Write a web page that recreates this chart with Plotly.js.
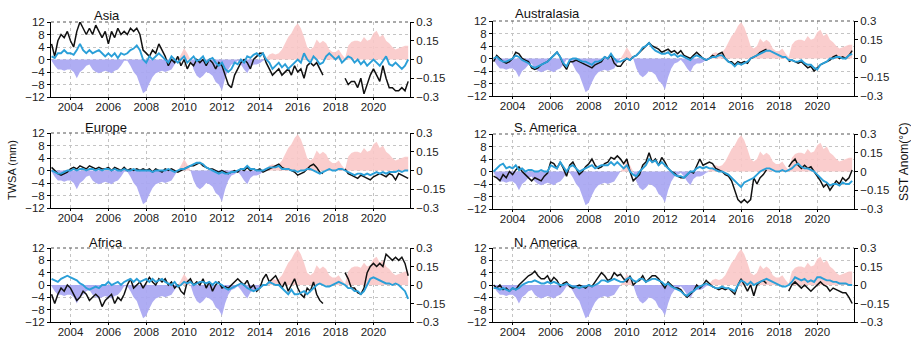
<!DOCTYPE html>
<html><head><meta charset="utf-8">
<script src="https://cdn.plot.ly/plotly-3.0.1.min.js"></script>
<style>html,body{margin:0;padding:0;background:#fff}#chart{width:911px;height:338px}</style>
</head><body><div id="chart"></div>
<script>
// time axis: bimonthly samples starting Jan 2003
const startYear = 2003;
const stepYears = 1 / 6;

const regionNames = ["Asia", "Australasia", "Europe", "S. America", "Africa", "N. America"];

// SST anomaly (°C), shared by all panels
const sstAnom = [
 -0.01,-0.05,-0.08,-0.08,-0.09,-0.08,
 -0.08,-0.10,-0.15,-0.10,-0.08,-0.05,
 -0.04,-0.08,-0.10,-0.11,-0.10,-0.09,
 -0.10,-0.11,-0.09,-0.08,-0.05,-0.01,
 -0.01,-0.05,-0.10,-0.13,-0.20,-0.27,
 -0.25,-0.19,-0.14,-0.11,-0.10,-0.09,
 -0.10,-0.09,-0.08,-0.04,0.00,0.04,
 0.09,0.05,0.00,-0.08,-0.13,-0.15,
 -0.13,-0.10,-0.11,-0.13,-0.18,-0.20,
 -0.25,-0.15,-0.08,-0.04,-0.03,-0.01,
 -0.04,-0.08,-0.11,-0.06,-0.04,-0.04,
 -0.03,-0.01,0.01,0.04,0.05,0.04,
 0.05,0.08,0.13,0.18,0.21,0.26,
 0.29,0.25,0.18,0.10,0.08,0.10,
 0.16,0.13,0.15,0.13,0.08,0.06,
 0.06,0.08,0.04,0.01,0.11,0.14,
 0.15,0.15,0.14,0.18,0.15,0.16,
 0.21,0.23,0.18,0.20,0.15,0.13,
 0.10,0.08,0.09,0.10,0.11,0.11
];

// TWSA (mm): black = observed, cyan = model
const asiaObs = [
 5,1,6,8,7,9,
 6,4,9,12,10,8,
 10,8,11,9,7,9,
 5,9,7,10,8,9,
 8,10,9,10,8,3,
 2,1,3,2,5,3,
 1,-2,0,-1,1,-2,
 0,-3,-1,-2,0,-1,
 0,-2,0,-1,-3,-1,
 -2,-5,-8,-9,-5,-3,
 -1,0,-1,-3,0,1,
 2,2,-1,-3,-5,-4,
 -3,-5,-4,-3,-5,-2,
 -4,-3,-6,-2,-1,-2,
 -1,-3,-5,null,null,null,
 null,null,null,-6,-8,-7,
 -7,-9,-6,-11,-8,-5,
 -3,-5,-7,-2,-6,-9,
 -9,-10,-10,-9,-10,-7
];
const asiaModel = [
 1,0.5,2,2,3,2,
 2,1.5,3,5,3,2,
 3,2,2.5,3,2,1,
 2,1,2,0.5,2,1.5,
 2,3,3.5,4.5,3,0,
 -1,1,0,1,2,1,
 0,-1,1,0,-1,0,
 1,-1,0,1,-0.5,0,
 1,-1,0,0.5,-1,-2,
 -1,-3,-4,-3,-1,-1.5,
 0,-1,1,0.5,1.5,2,
 1,2,0,-1,-3,-2,
 -1,-2.5,-1.5,-3,-2,-1,
 0,-1,2,0,-1,1,
 0,-1.5,-1,1,2,1,
 0,1,-1,0,1,0.5,
 -1,0,-1.5,-0.5,-2,-1,
 0,-1,-2,-0.5,1,-1.5,
 -2,-1,-2,-3,-2,0
];
const australasiaObs = [
 -1,1,0,-1,-1.5,-1,
 0,2,1.5,0,-0.5,-1,
 -3,-3.5,-3,-2,-1.5,-1,
 0,1,2,0.5,-2,-3.5,
 -1,-1,-0.5,-1,-1.5,-2,
 -2.5,-3,-2,-1.5,-1,0.5,
 0,1,-1.5,-2.5,-2.5,-1,
 0,-0.5,0.5,1,2,3,
 4,5,4,3.5,3,2,
 2.5,3,2,2.5,1.5,2.5,
 1,0.5,0,1,2,1,
 0,-0.5,0,1,0.5,1.5,
 2,0,-1,-1,-2,-1,
 -1.5,-1,-1.5,0,0.5,1,
 2,2.5,3,null,null,null,
 null,null,null,-1,-0.5,-1,
 -1.5,-1,-2,-3,-2.5,-4,
 -3,-2,-1.5,-1,-0.5,0.5,
 1,0,0.5,0,1,2.5
];
const australasiaModel = [
 0,0.5,-0.5,-1,-1,-0.5,
 0,1,0.5,-0.5,-1,-1.5,
 -2.5,-3,-2.5,-2,-1.5,-1,
 0,1,2,0.5,-1.5,-2.5,
 -0.5,0,0,-0.5,-1,-1,
 -1.5,-2,-1,-1,-0.5,0.5,
 0,1.5,0,-1,-1,-0.5,
 0,-0.5,0.5,1,2,3.5,
 4,5,3.5,2.5,2,1.5,
 1.5,2,1,1.5,0.5,1,
 0.5,0,-0.5,0.5,1,0.5,
 0,-0.5,0,0.5,0.5,1,
 1,0,-1,-1.5,-2.5,-1.5,
 -2,-1.5,-1,0,0.5,1,
 1.5,2,2.5,2.5,2,1.5,
 1,0.5,0.5,-0.5,-0.5,-1,
 -1,-0.5,-1.5,-2,-2,-3,
 -3.5,-2,-1.5,-1,0,0,
 0.5,0.5,0,0,1,1.5
];
const europeObs = [
 1,0,-1,-1.5,-1,-0.5,
 0.5,1,0.5,1.5,1,0.5,
 1.5,1,0.5,1,0.5,0.5,
 1,0,1,0.5,0,1,
 0,0.5,0,0.5,0,0.5,
 0,0.5,-0.5,0.5,0,-0.5,
 0.5,0,0.5,0,-0.5,0,
 0.5,1,1.5,1.5,2,2.5,
 1.5,1,0.5,0.5,0,-0.5,
 0,-0.5,-1,-0.5,0,-0.5,
 0.5,0,1,0,0.5,0,
 0.5,-0.5,0,0.5,1,1.5,
 2,1,0.5,0.5,0,-0.5,
 -1.5,-1,-0.5,0.5,1.5,2,
 1,-0.5,-1,null,null,null,
 null,null,null,0.5,-1,-1.5,
 -2,-2.5,-1.5,-2,-2.5,-3,
 -2,-1.5,-1,-1.5,-2,-1,
 -1.5,-3,-1,-1.5,-2,-2.5
];
const europeModel = [
 0,-0.5,-1,-1,-0.5,0,
 0,0.5,0,0.5,0.5,0,
 0.5,0.5,0,0.5,0,0.5,
 0.5,0,0.5,0,0,0.5,
 0,0,0.5,0,0,0,
 0,0,-0.5,0,0,0,
 0,0.5,0,-0.5,0,0.5,
 0.5,1,1.5,2,2.5,2.5,
 2,1,0.5,0,-0.5,-1,
 -0.5,-1,-1,-0.5,-0.5,0,
 0.5,0.5,1.5,0.5,0.5,0,
 0,0,0.5,1,1,1,
 1.5,0.5,0.5,0.5,0,0,
 -0.5,0,0,0.5,0.5,0,
 -0.5,-1,-0.5,0,0.5,0,
 0,0.5,0.5,0,-0.5,-1,
 -1.5,-1,-1,-1.5,-1,-1.5,
 -1,-0.5,-1,-0.5,-1,-0.5,
 -0.5,-0.5,0,-0.5,0,0
];
const sAmericaObs = [
 -1.5,-2,-3,-1,-2,0,
 -1,0.5,1.5,0,-1,-2,
 -3,-2,-2.5,-3,-1.5,-0.5,
 3,2.5,1,3,1,-1.5,
 2,3,1,-1,0,1.5,
 2.5,4,2,1,1.5,2.5,
 3,4.5,4,5,4,2.5,
 4,0,-3,-2,-1,2,
 3,6,3,4,2,4.5,
 3,1,0,-0.5,-1.5,-2,
 -2,-1,0,-0.5,2,4,
 2,2.5,3,2.5,1,0.5,
 0,-1,-1.5,-3,-6,-9,
 -10,-9,-10,-9,-2,-4,
 -2,-1,0.5,null,null,null,
 null,null,null,1.5,3,4,
 2,1,2,1,1.5,0,
 -1.5,-3,-5,-4,-6,-4.5,
 -3,-4,-2,-3,-2,0.5
];
const sAmericaModel = [
 0,1,2,2.5,1,1.5,
 1,2,0.5,1,0,0.5,
 0.5,0,0,0.5,0,0,
 2,1.5,1,3,1.5,0,
 1.5,2,1,0,0.5,1,
 1.5,2,1,1.5,2,2,
 2,3,2,3,2,1,
 2,0,-1,-1.5,0,1,
 2,4,3,3.5,2,3,
 2,1,0,-1,-1.5,-1.5,
 -2,-1,0,0,1,1.5,
 1,1.5,1,1,0.5,0,
 0,-0.5,-1,-2,-3,-4,
 -5,-3.5,-3,-2.5,-2,-1,
 0,0.5,1,1,0.5,0,
 0,0.5,0,0.5,1,2,
 2.5,1.5,1,1,0.5,0,
 -1,-2,-3,-3.5,-4.5,-4,
 -4,-4.5,-3.5,-4,-4,-3
];
const africaObs = [
 -3,-6,-3,-1,-2,0,
 -1,-3,-5,-4,-2,-3,
 -5,-4,-3,-4,-7,-5,
 -4,-3,-6,-4,-5,-3,
 0,2,-1,0,1,-1,
 1,2.5,1,0,2,1,
 2,0,1,-1,0,-2,
 -3,1,2,0,1,0,
 2,-1,1,-2,0,1,
 -1,-0.5,-1,0,1,2,
 1,0,1.5,-1,0,-2,
 -1,2,3.5,1,2,3,
 1,-1,1,-2,0,2,
 -1,-3,-4,-1,-2,1,
 -3,-5,-6,null,null,null,
 null,null,null,4,2,-1,
 -1,-2.5,-3,-1,4,6,
 7,6,7,6,10,9,
 8,9,8,9,7,3
];
const africaModel = [
 2,1.5,1,2,2.5,3,
 2.5,2,1.5,0.5,0,-1,
 -1.5,-1,-0.5,-1,0,0,
 1,0,0.5,1,0,1,
 1.5,2,1,2,1,1.5,
 2,1,2,1,1.5,2,
 1,0.5,0,1,-0.5,0,
 1,0.5,1,0,0.5,1,
 1,0.5,1,0,1,0.5,
 0,-1,-1.5,-1,-0.5,0,
 0.5,0,-1,-1.5,-2,-1.5,
 -1,0,0,1,0.5,0,
 0,-1,-2,-3,-1.5,-3,
 -3,-2.5,-2,-3,-2,-1,
 0,0.5,0,-0.5,-0.5,0,
 0.5,1,0.5,0,-1,-1,
 -2,-2,-3,-2,0,2,
 2.5,2,1.5,1,0.5,0.5,
 0,0.5,0,-1,-2,-4.5
];
const nAmericaObs = [
 0,-1,0,-1.5,-1,-2,
 -1,-1.5,0,1,2,3,
 3.5,4.5,3,2,2,3,
 1,2.5,1.5,-0.5,0.5,1,
 -0.5,-1,-0.5,0,-0.5,-1,
 0,-0.5,1,2.5,4,3,
 1.5,2,4,3,3.5,2,
 1,3,0,1,1.5,3,
 1,2,3,3,2,0.5,
 -1,1,0,-1,-1,-1.5,
 -3,-4,-3,-2,0,-1,
 0,1.5,0.5,-0.5,-1,-1.5,
 -1,-1.5,-1,-2,-3,0,
 2,0,-2,0,-3.5,0,
 1,1.5,0.5,null,null,null,
 null,null,null,-2,0,1,
 0,-1,0,-1,-2,-1,
 0,1,0,-0.5,-2,-1,
 -1.5,-2,-2.5,-2.5,-4,-6
];
const nAmericaModel = [
 -1,-1,-1.5,-1,-1.5,-2,
 -1,-1.5,-1,0,0.5,1,
 1,1.5,1,0.5,0.5,1,
 0.5,1,0.5,0,0,0.5,
 0,-0.5,-0.5,-1,-0.5,-0.5,
 0,-0.5,0,0.5,1.5,1.5,
 1,1.5,2,1.5,1,1,
 2,2.5,1.5,1,2,2,
 1,1.5,2,2,1.5,1,
 0,0.5,-0.5,-1,-1.5,-2,
 -3,-3.5,-2.5,-2,-1,-0.5,
 0,0.5,0,-0.5,-1,-1,
 -0.5,-1,-1,-1.5,-2,0,
 1.5,1,0,1,0,0.5,
 1,1.5,2,1.5,1,0.5,
 0,-0.5,-0.5,0,1,2.5,
 2,1.5,2,1,1.5,1,
 2.5,2.5,2,1.5,1.5,1,
 1,0.5,0.5,0.5,0,0
];

const obsSeries = [asiaObs, australasiaObs, europeObs, sAmericaObs, africaObs, nAmericaObs];
const modelSeries = [asiaModel, australasiaModel, europeModel, sAmericaModel, africaModel, nAmericaModel];

const xTickVals = [2004, 2006, 2008, 2010, 2012, 2014, 2016, 2018, 2020];
const yTickVals = [-12, -8, -4, 0, 4, 8, 12];
const y2TickVals = [-0.3, -0.15, 0, 0.15, 0.3];

const W = 911, H = 338;
const times = sstAnom.map((_, i) => startYear + i * stepYears);
const sstPos = sstAnom.map(v => v > 0 ? v : 0);
const sstNeg = sstAnom.map(v => v < 0 ? v : 0);

// pixel frames of each panel: [left, right, top, bottom]
const frames = [
  [51, 410, 22, 97], [493, 854, 21, 96],
  [51, 410, 133, 208], [493, 854, 134, 209],
  [51, 410, 248, 322], [493, 854, 248, 322]
];
const titlePos = [[92, 15], [513, 14], [83, 127], [512, 127], [87, 242], [512, 242]];

const font = "Liberation Sans, Arial, sans-serif";
const traces = [];
const layout = {
  width: W, height: H, margin: {l: 0, r: 0, t: 0, b: 0},
  paper_bgcolor: "#fff", plot_bgcolor: "rgba(0,0,0,0)", showlegend: false,
  font: {family: font, size: 11, color: "#222"},
  annotations: [], shapes: []
};

frames.forEach((f, k) => {
  const n = k + 1;
  const xa = "x" + (n === 1 ? "" : n);
  const yBaseIdx = 2 * k + 1, yOverIdx = 2 * k + 2;
  const yBase = "y" + (yBaseIdx === 1 ? "" : yBaseIdx);   // SST (right)
  const yOver = "y" + yOverIdx;                             // TWSA (left)
  const xd = [f[0] / W, f[1] / W];
  const yd = [(H - f[3]) / H, (H - f[2]) / H];

  traces.push({x: times, y: sstPos, xaxis: xa, yaxis: yBase, type: "scatter", mode: "none",
    fill: "tozeroy", fillcolor: "rgba(249,200,200,0.9)", hoverinfo: "skip"});
  traces.push({x: times, y: sstNeg, xaxis: xa, yaxis: yBase, type: "scatter", mode: "none",
    fill: "tozeroy", fillcolor: "rgba(168,166,242,0.92)", hoverinfo: "skip"});
  traces.push({x: times, y: obsSeries[k], xaxis: xa, yaxis: yOver, type: "scatter", mode: "lines",
    line: {color: "#111", width: 1.5}, connectgaps: false});
  traces.push({x: times, y: modelSeries[k], xaxis: xa, yaxis: yOver, type: "scatter", mode: "lines",
    line: {color: "#2a9fd8", width: 1.9}});

  layout["xaxis" + (n === 1 ? "" : n)] = {
    domain: xd, anchor: yBase, range: [2002.97, 2021.93],
    tickmode: "array", tickvals: xTickVals, ticktext: xTickVals.map(String),
    showgrid: true, gridcolor: "#c4c4c4", griddash: "dot", gridwidth: 1,
    showline: true, linecolor: "#000", linewidth: 1, ticks: "outside", ticklen: 2,
    tickcolor: "#000", zeroline: false, tickfont: {size: 11.5, color: "#222"},
    ticklabelstandoff: -3
  };
  layout["yaxis" + (yBaseIdx === 1 ? "" : yBaseIdx)] = {
    domain: yd, anchor: xa, side: "right", range: [-0.3, 0.3],
    tickmode: "array", tickvals: y2TickVals,
    showgrid: false, showline: true, linecolor: "#000", linewidth: 1,
    ticks: "outside", ticklen: 3, tickcolor: "#000", zeroline: false,
    tickfont: {size: 11.5, color: "#222"}
  };
  layout["yaxis" + yOverIdx] = {
    domain: yd, anchor: xa, overlaying: yBase, side: "left", range: [-12, 12],
    tickmode: "array", tickvals: yTickVals,
    showgrid: true, gridcolor: "#c4c4c4", griddash: "dot", gridwidth: 1,
    showline: true, linecolor: "#000", linewidth: 1, ticks: "outside", ticklen: 3,
    tickcolor: "#000", zeroline: false, tickfont: {size: 11.5, color: "#222"}
  };
  // dotted top frame
  layout.shapes.push({type: "line", xref: "paper", yref: "paper",
    x0: xd[0], x1: xd[1], y0: yd[1], y1: yd[1],
    line: {color: "#555", width: 1, dash: "dot"}});
  layout.annotations.push({text: regionNames[k], xref: "paper", yref: "paper",
    x: titlePos[k][0] / W, y: (H - titlePos[k][1]) / H, xanchor: "left", yanchor: "middle",
    showarrow: false, font: {family: font, size: 13, color: "#111"}});
});

layout.annotations.push({text: "TWSA (mm)", xref: "paper", yref: "paper",
  x: 12 / W, y: (H - 170) / H, textangle: -90, xanchor: "center", yanchor: "middle",
  showarrow: false, font: {family: font, size: 11, color: "#111"}});
layout.annotations.push({text: "SST Anom(°C)", xref: "paper", yref: "paper",
  x: 904 / W, y: (H - 162) / H, textangle: -90, xanchor: "center", yanchor: "middle",
  showarrow: false, font: {family: font, size: 12, color: "#111"}});

Plotly.newPlot("chart", traces, layout, {staticPlot: true, displayModeBar: false});
</script>
</body></html>
